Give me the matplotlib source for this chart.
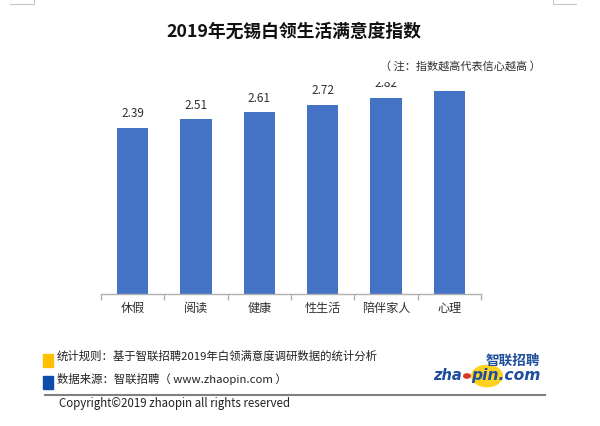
import matplotlib
matplotlib.use("Agg")
import matplotlib.pyplot as plt
from matplotlib.patches import Rectangle, Circle
from matplotlib.lines import Line2D

plt.rcParams['font.family'] = ['Noto Sans CJK SC', 'DejaVu Sans']

categories = ['休假', '阅读', '健康', '性生活', '陪伴家人', '心理']
values = [2.39, 2.51, 2.61, 2.72, 2.82, 2.91]
title = '2019年无锡白领生活满意度指数'
note = '（ 注：指数越高代表信心越高 ）'
footer_rule = '统计规则：基于智联招聘2019年白领满意度调研数据的统计分析'
footer_source = '数据来源：智联招聘（ www.zhaopin.com ）'
copyright_text = 'Copyright©2019 zhaopin all rights reserved'

W, H = 600, 427
fig = plt.figure(figsize=(6, 4.27), dpi=100)

def fx(x):
    return x / W

def fy(y):
    return 1 - y / H

ax_left, ax_right, ax_top, ax_bot = 101, 481, 83, 295
ax = fig.add_axes([fx(ax_left), fy(ax_bot), (ax_right - ax_left) / W, (ax_bot - ax_top) / H])
ax.set_facecolor('none')

x = list(range(len(categories)))
bars = ax.bar(x, values, width=0.49, color='#4472C4')
ax.set_xlim(-0.5, len(categories) - 0.5)
ymax = 3.045
ax.set_ylim(0, ymax)
for s in ['top', 'right', 'left']:
    ax.spines[s].set_visible(False)
ax.spines['bottom'].set_color('#b0b0b0')
ax.spines['bottom'].set_linewidth(1.0)
ax.set_yticks([])
ax.set_xticks([i - 0.5 for i in range(len(categories) + 1)])
ax.set_xticklabels([])
ax.tick_params(axis='x', direction='out', length=4, color='#b0b0b0', width=1.0)
for i, c in enumerate(categories):
    ax.text(i, -0.19, c, ha='center', va='center', fontsize=8.7, color='#303030')

px_per_unit = (ax_bot - ax_top) / ymax
for i, v in enumerate(values):
    ax.text(i, v + 15 / px_per_unit, f'{v:.2f}', ha='center', va='center',
            fontsize=8.5, color='#303030', clip_on=True)

fig.text(fx(294), fy(33), title, ha='center', va='center', fontsize=12.8,
         fontweight='bold', color='#111111')
fig.text(fx(541), fy(66), note, ha='right', va='center', fontsize=8.0, color='#303030')

# footer markers
fig.patches.append(Rectangle((fx(43), fy(368)), 10 / W, 13 / H, transform=fig.transFigure,
                             color='#FFC000', figure=fig))
fig.patches.append(Rectangle((fx(43), fy(390)), 10 / W, 13 / H, transform=fig.transFigure,
                             color='#0F4BA8', figure=fig))
fig.text(fx(57), fy(356), footer_rule, ha='left', va='center', fontsize=8.2, color='#222222')
fig.text(fx(57), fy(379), footer_source, ha='left', va='center', fontsize=8.2, color='#222222')

fig.lines.append(Line2D([fx(45), fx(545)], [fy(396), fy(396)], transform=fig.transFigure,
                        color='#808080', linewidth=1.5, figure=fig))
fig.text(fx(59), fy(404), copyright_text, ha='left', va='center', fontsize=8.3, color='#222222')

# logo
fig.patches.append(Circle((fx(487), fy(377)), 16 / W, transform=fig.transFigure,
                          facecolor='#FFD21F', edgecolor='none', figure=fig, zorder=0))
fig.text(fx(540), fy(361), '智联招聘', ha='right', va='center', fontsize=9.8,
         fontweight='bold', color='#1F4E9E', zorder=5)
fig.text(fx(462), fy(376), 'zha', ha='right', va='center', fontsize=10.5,
         fontweight='bold', style='italic', family='DejaVu Sans', color='#1F4E9E', zorder=5)
fig.text(fx(541), fy(376), 'pin.com', ha='right', va='center', fontsize=11.2,
         fontweight='bold', style='italic', family='DejaVu Sans', color='#1F4E9E', zorder=5)
fig.patches.append(Circle((fx(467), fy(377)), 4 / W, transform=fig.transFigure,
                          facecolor='#D83A2A', edgecolor='none', figure=fig, zorder=4))

# corner marks
mc = '#c8c8c8'
fig.lines.append(Line2D([fx(10), fx(34), fx(34)], [fy(5), fy(5), fy(0)],
                        transform=fig.transFigure, color=mc, linewidth=0.8, figure=fig))
fig.lines.append(Line2D([fx(553), fx(553), fx(576)], [fy(0), fy(5), fy(5)],
                        transform=fig.transFigure, color=mc, linewidth=0.8, figure=fig))

fig.savefig('out.png', dpi=100)
